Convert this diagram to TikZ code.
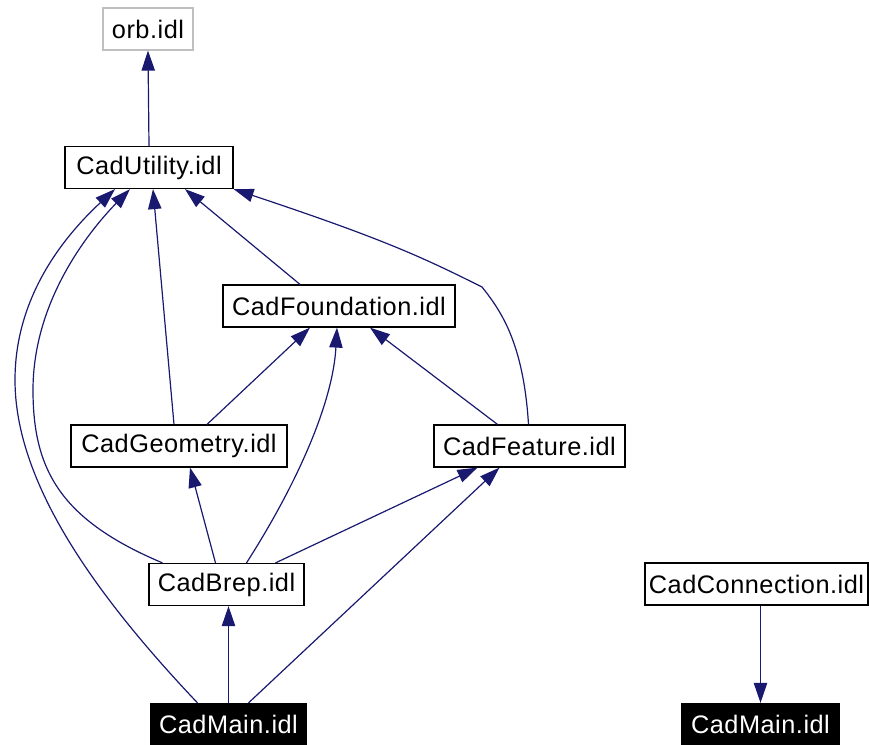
\documentclass[tikz,border=0pt]{standalone}
\usepackage{fontspec}
\setmainfont[LetterSpace=2]{Liberation Sans}
\usetikzlibrary{
    arrows.meta,
    calc
}
\definecolor{edgeblue}{HTML}{191970}
\definecolor{extgray}{HTML}{BFBFBF}

\begin{document}
\begin{tikzpicture}[x=0.75pt,y=-0.75pt,
    file/.style={draw,line width=0.9pt,minimum height=31.5pt,inner sep=0pt,
        font=\fontsize{19}{22}\selectfont},
    ext/.style={file,draw=extgray},
    top/.style={file,fill=black,text=white},
    dep/.style={draw=edgeblue,line width=0.9pt,
        -{Triangle[length=15pt,width=10pt,fill=edgeblue]}}
]

\useasboundingbox (0,0) rectangle (869,744);

% Files
\node[ext, minimum width=67.5pt] (orb) at (148,29) {orb.idl};
\node[file, minimum width=126pt] (util) at (149,167.5) {CadUtility.idl};
\node[file, minimum width=174pt] (found) at (339,306) {CadFoundation.idl};
\node[file, minimum width=162pt] (geom) at (179,446) {CadGeometry.idl};
\node[file, minimum width=143.25pt] (feat) at (529.5,446) {CadFeature.idl};
\node[file, minimum width=116.25pt] (brep) at (226.5,584.5) {CadBrep.idl};
\node[top, minimum width=116.25pt] (main) at (228.5,724.5) {CadMain.idl};
\node[file, minimum width=167.25pt] (conn) at (756.5,584) {CadConnection.idl};
\node[top, minimum width=117.75pt] (main2) at (760.5,724.5) {CadMain.idl};

% Includes
\draw[dep] (util.north) -- (orb.south);

\draw[dep] ($(found.north)+(-39,0)$) -- ($(util.south)+(36,0)$);
\draw[dep] ($(geom.north)+(-5,0)$) -- ($(util.south)+(4,0)$);
\draw[dep] ($(feat.north)+(-1,0)$)
    .. controls +(-5,-80) and +(20,25) .. (482,287)
    .. controls +(-60,-30) and +(150,50) .. (util.south east);

\draw[dep] ($(geom.north)+(28,0)$) -- ($(found.south)+(-29,0)$);
\draw[dep] ($(feat.north)+(-32,0)$) -- ($(found.south)+(31,0)$);
\draw[dep] ($(brep.north)+(20,0)$)
    .. controls +(53,-83) and +(-4,73) .. ($(found.south)+(-2,0)$);

\draw[dep] ($(brep.north)+(-11,0)$) -- ($(geom.south)+(11,0)$);
\draw[dep] ($(brep.north)+(49,0)$) -- ($(feat.south)+(-52,0)$);
\draw[dep] ($(brep.north)+(-64,0)$)
    .. controls +(-102,-43) and +(0,80) .. (33,390)
    .. controls +(0,-90) and +(-40,41) .. ($(util.south)+(-19,0)$);

\draw[dep] (main.north) -- (main.north |- brep.south);
\draw[dep] ($(main.north)+(20,0)$) -- ($(feat.south)+(-30,0)$);
\draw[dep] ($(main.north)+(-31,0)$)
    .. controls +(-107,-113) and +(0,100) .. (15,380)
    .. controls +(0,-80) and +(-55,51) .. ($(util.south)+(-34,0)$);

\draw[dep] ($(conn.south)+(4,0)$) -- (main2.north);

\end{tikzpicture}
\end{document}
